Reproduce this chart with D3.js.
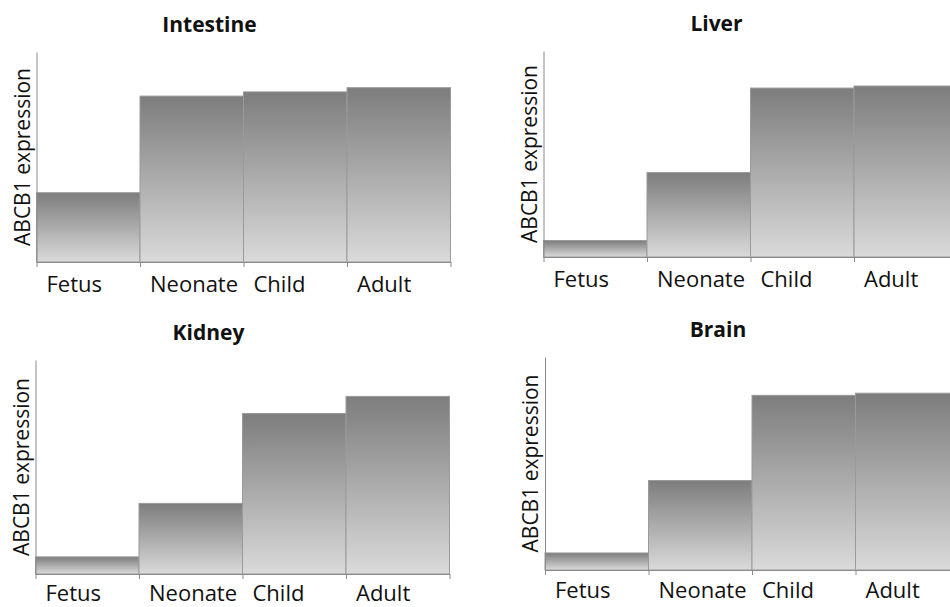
<!DOCTYPE html>
<html>
<head>
<meta charset="utf-8">
<script src="https://cdn.jsdelivr.net/npm/d3@7"></script>
<style>
  body { margin: 0; background: #fff; }
  svg { display: block; font-family: "Open Sans", sans-serif; }
</style>
</head>
<body>
<svg id="chart" width="950" height="607"></svg>
<script>
// Data
var stages = ["Fetus", "Neonate", "Child", "Adult"];
var intestine = [33, 79, 81, 83];
var liver = [8, 41, 82, 83];
var kidney = [8, 33, 75, 83];
var brain = [8, 42, 82, 83];

var svg = d3.select("#chart");

// panel layout (left, top of axis, baseline)
var panels = [
  {title: "Intestine", values: intestine, x: 36.5, top: 52, base: 262, lab: 30},
  {title: "Liver", values: liver, x: 543.5, top: 51, base: 257, lab: 30},
  {title: "Kidney", values: kidney, x: 35.5, top: 360, base: 574, lab: 27},
  {title: "Brain", values: brain, x: 545, top: 357, base: 570, lab: 28}
];
var bandW = 103.5;

// gradient for bars
var grad = svg.append("defs").append("linearGradient")
  .attr("id", "barGrad")
  .attr("x1", 0).attr("y1", 0).attr("x2", 0).attr("y2", 1);
grad.append("stop").attr("offset", "0%").attr("stop-color", "#7d7d7d");
grad.append("stop").attr("offset", "100%").attr("stop-color", "#dadada");

panels.forEach(function(p) {
  var h = p.base - p.top;
  var g = svg.append("g").attr("transform", "translate(" + p.x + "," + p.top + ")");

  var x = d3.scaleBand().domain(stages).range([0, bandW * stages.length]).padding(0);
  var y = d3.scaleLinear().domain([0, 100]).range([h, 0]);
  var edge = d3.scaleLinear().domain([0, stages.length]).range([0, bandW * stages.length]);

  // bars
  g.selectAll("rect")
    .data(p.values)
    .enter().append("rect")
    .attr("x", function(d, i) { return x(stages[i]); })
    .attr("y", function(d) { return y(d); })
    .attr("width", x.bandwidth())
    .attr("height", function(d) { return h - y(d); })
    .attr("fill", "url(#barGrad)")
    .attr("stroke", "#9a9a9a")
    .attr("stroke-width", 1);

  // x axis with ticks on band edges
  var xa = g.append("g")
    .attr("transform", "translate(0," + h + ")")
    .call(d3.axisBottom(edge).tickValues(d3.range(stages.length + 1)).tickFormat("").tickSize(5).tickSizeOuter(0));
  xa.selectAll("path, line").attr("stroke", "#8a8a8a");

  // y axis line only
  var ya = g.append("g")
    .call(d3.axisLeft(y).tickValues([]).tickSizeOuter(0));
  ya.select("path").attr("stroke", "#8a8a8a");

  // category labels
  g.selectAll(".lbl")
    .data(stages)
    .enter().append("text")
    .attr("class", "lbl")
    .attr("x", function(d) { return x(d) + 10; })
    .attr("y", h + p.lab)
    .attr("font-size", 22)
    .attr("fill", "#111")
    .text(function(d) { return d; });

  // y label
  g.append("text")
    .attr("transform", "translate(-7," + (h / 2) + ") rotate(-90)")
    .attr("text-anchor", "middle")
    .attr("font-size", 21)
    .attr("fill", "#111")
    .text("ABCB1 expression");

  // title
  g.append("text")
    .attr("x", 173)
    .attr("y", -20)
    .attr("text-anchor", "middle")
    .attr("font-size", 21)
    .attr("font-weight", "bold")
    .attr("fill", "#111")
    .text(p.title);
});
</script>
</body>
</html>
